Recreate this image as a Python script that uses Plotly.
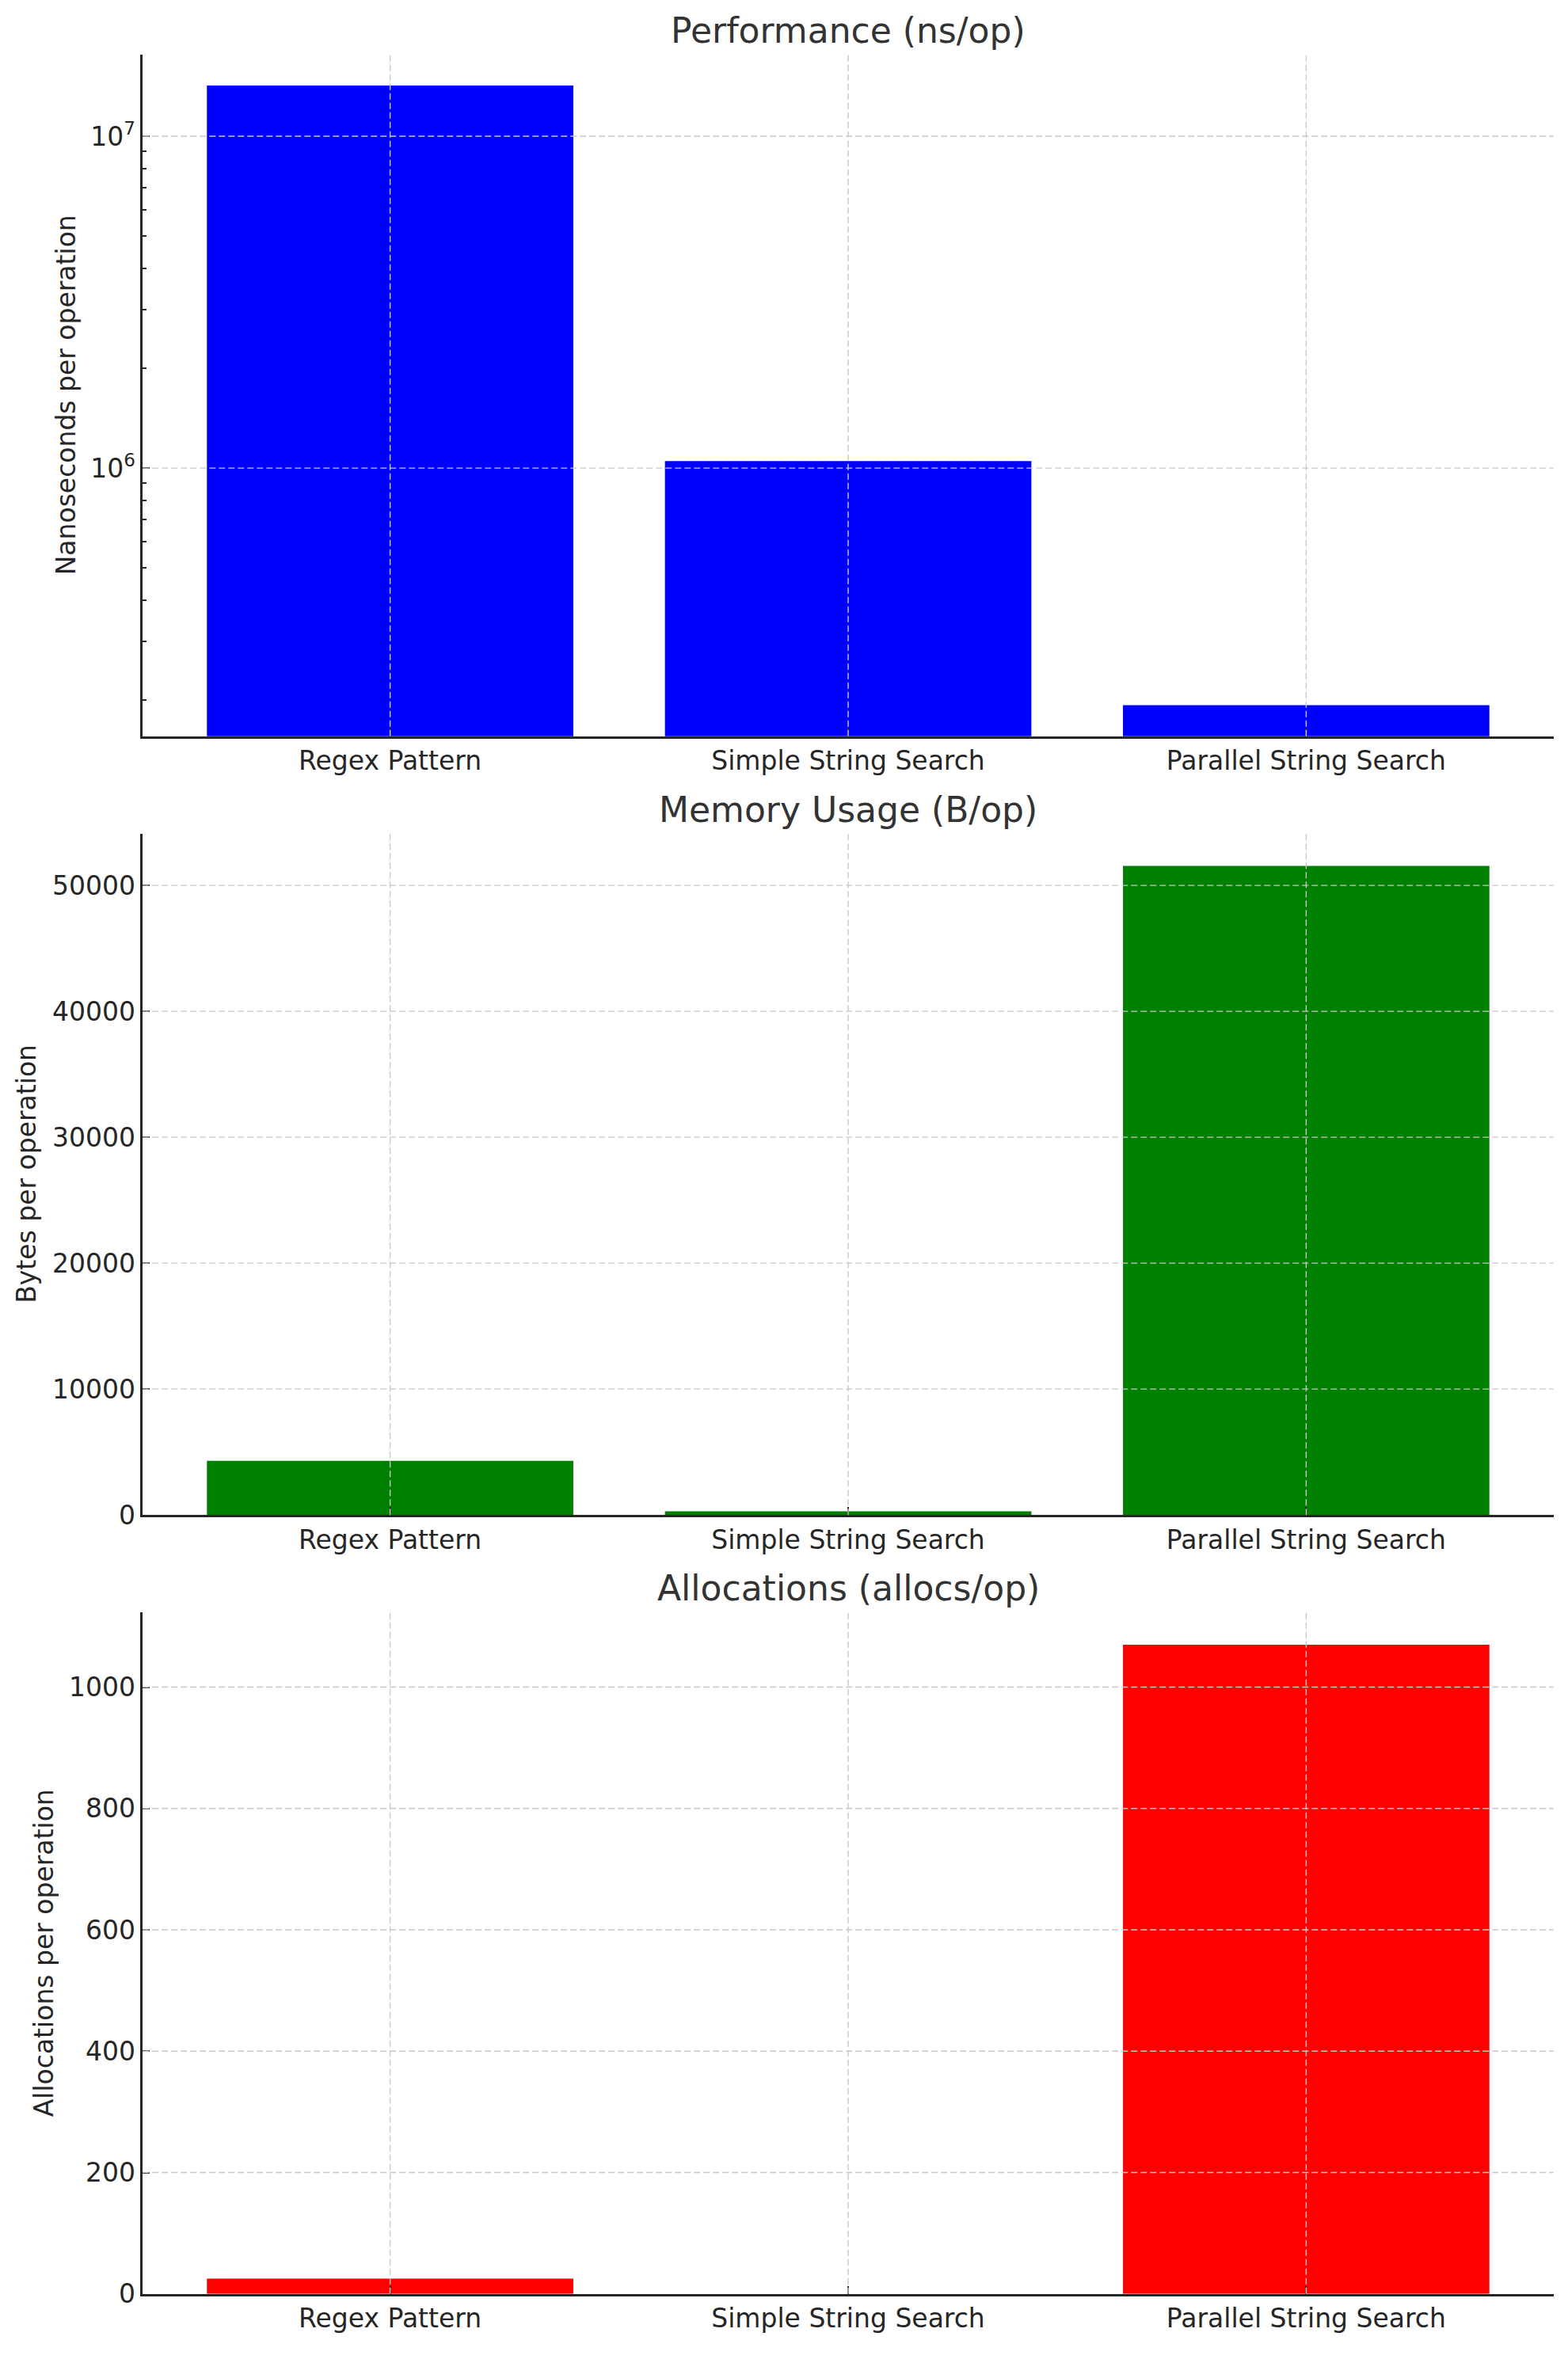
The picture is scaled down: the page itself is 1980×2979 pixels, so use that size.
import math
import plotly.graph_objects as go

# benchmark results
categories = ["Regex Pattern", "Simple String Search", "Parallel String Search"]
ns_per_op = [14200000, 1050000, 193000]
bytes_per_op = [4300, 290, 51550]
allocs_per_op = [25, 0, 1070]

panel_titles = ["Performance (ns/op)", "Memory Usage (B/op)", "Allocations (allocs/op)"]
y_labels = ["Nanoseconds per operation", "Bytes per operation", "Allocations per operation"]
bar_colors = ["blue", "green", "red"]

# the page body keeps its default 8px margin, so the figure is drawn
# 8px in from the window edge; positions below are window pixels
OFF = 8
W, H = 1980 - 2 * OFF, 2979 - 2 * OFF
FONT = "DejaVu Sans"
INK = "#262626"
GRID = "#c8c8c8"

# axes boxes in window pixels
x_left, x_right = 180.3, 1961.7
boxes = [(69.4, 936.0), (1059.6, 1926.1), (2049.7, 2916.4)]  # (top, bottom)
ylabel_x = [83, 34, 55]


def fx(px):
    return (px - OFF) / W


def fy(px):
    return 1 - (px - OFF) / H


series = [ns_per_op, bytes_per_op, allocs_per_op]

fig = go.Figure()
layout = {}
annotations = []
shapes = []

# category axis range like matplotlib's 5% margins around bars of width 0.8
x_lo, x_hi = -0.4, len(categories) - 1 + 0.4
x_pad = 0.05 * (x_hi - x_lo)
x_range = [x_lo - x_pad, x_hi + x_pad]

for i, (vals, color) in enumerate(zip(series, bar_colors)):
    n = "" if i == 0 else str(i + 1)
    xa, ya = "x" + n, "y" + n
    top, bot = boxes[i]

    fig.add_trace(go.Bar(x=categories, y=vals, marker_color=color,
                         marker_line_width=0, width=0.8,
                         xaxis=xa, yaxis=ya, showlegend=False))

    layout["xaxis" + n] = dict(
        domain=[fx(x_left), fx(x_right)], anchor=ya, type="category",
        range=x_range, showgrid=False, zeroline=False,
        showline=True, linecolor=INK, linewidth=2.6,
        ticks="inside", ticklen=10, tickwidth=2, tickcolor=INK,
        tickfont=dict(family=FONT, size=33, color=INK),
    )

    yax = dict(
        domain=[fy(bot), fy(top)], anchor=xa, showgrid=False, zeroline=False,
        showline=True, linecolor=INK, linewidth=2.6,
        ticks="inside", ticklen=9, tickwidth=2, tickcolor=INK,
        tickfont=dict(family=FONT, size=33, color=INK),
    )
    if i == 0:
        lo, hi = math.log10(min(vals)), math.log10(max(vals))
        pad = 0.05 * (hi - lo)
        major = [1e6, 1e7]
        minor = [m * 10 ** e for e in (5, 6) for m in range(2, 10)]
        yax.update(type="log", range=[lo - pad, hi + pad],
                   tickmode="array", tickvals=major,
                   ticktext=["10<sup>6</sup>", "10<sup>7</sup>"],
                   minor=dict(tickmode="array", tickvals=minor, ticks="inside",
                              ticklen=5, tickwidth=1.5, tickcolor=INK,
                              showgrid=False))
        grid_y = major
    else:
        step = 10000 if i == 1 else 200
        yax.update(range=[0, 1.05 * max(vals)], dtick=step, tick0=0,
                   tickformat="d")
        grid_y = list(range(0, int(1.05 * max(vals)) + 1, step))[1:]
    layout["yaxis" + n] = yax

    # dashed grid drawn over the bars
    for gy in grid_y:
        shapes.append(dict(type="line", xref=xa + " domain", yref=ya,
                           x0=0, x1=1, y0=gy, y1=gy, layer="above",
                           line=dict(color=GRID, width=1.4, dash="8px,4px")))
    for c in categories:
        shapes.append(dict(type="line", xref=xa, yref=ya + " domain",
                           x0=c, x1=c, y0=0, y1=1, layer="above",
                           line=dict(color=GRID, width=1.4, dash="8px,4px")))

    annotations.append(dict(text=panel_titles[i], xref="paper", yref="paper",
                            x=fx((x_left + x_right) / 2), y=fy(top - 30.5),
                            xanchor="center", yanchor="middle", showarrow=False,
                            font=dict(family=FONT, size=44, color="#333333")))
    annotations.append(dict(text=y_labels[i], xref="paper", yref="paper",
                            x=fx(ylabel_x[i]), y=fy((top + bot) / 2),
                            xanchor="center", yanchor="middle", textangle=-90,
                            showarrow=False,
                            font=dict(family=FONT, size=33, color=INK)))

fig.update_layout(
    width=W, height=H, autosize=False,
    margin=dict(l=0, r=0, t=0, b=0),
    paper_bgcolor="white", plot_bgcolor="white",
    bargap=0.2, annotations=annotations, shapes=shapes,
    font=dict(family=FONT, color=INK),
    **layout,
)

fig.write_html("out.html")
